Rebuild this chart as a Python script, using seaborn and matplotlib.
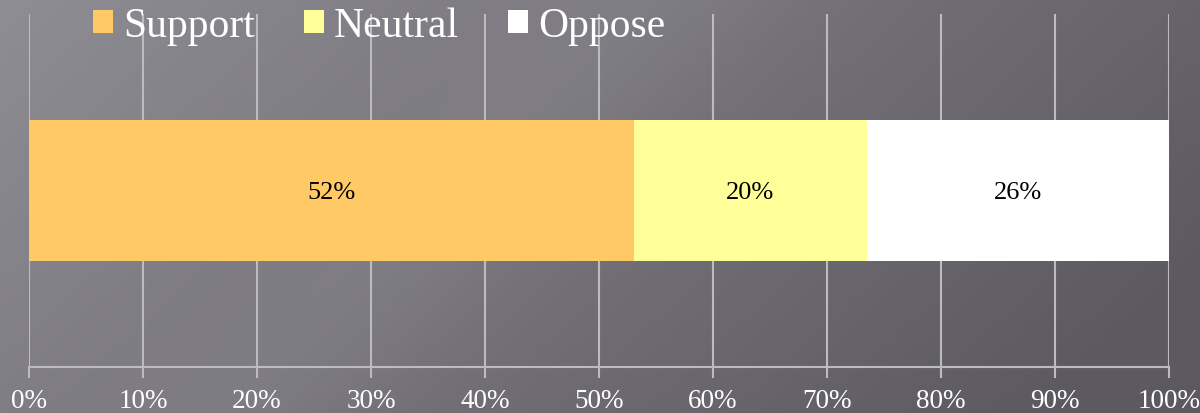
import numpy as np
import pandas as pd
import matplotlib
matplotlib.use("Agg")
import matplotlib.pyplot as plt
import seaborn as sns
from matplotlib.colors import LinearSegmentedColormap
from matplotlib.patches import Patch

# ---- data ----
categories = ["Support", "Neutral", "Oppose"]
values = [52, 20, 26]
colors = ["#FFC966", "#FFFF99", "#FFFFFF"]
tick_labels = ["0%", "10%", "20%", "30%", "40%", "50%", "60%", "70%", "80%", "90%", "100%"]

sns.set_theme(style="white")
plt.rcParams["font.family"] = ["Liberation Serif", "DejaVu Serif"]

fig = plt.figure(figsize=(12, 4.14), dpi=100)

# background gradient
bg = fig.add_axes([0, 0, 1, 1], zorder=-10)
bg.axis("off")
xx, yy = np.meshgrid(np.linspace(0, 1, 300), np.linspace(0, 1, 120))
g = np.clip(0.8 * xx + 0.3 * yy, 0, 1)
streak = np.exp(-((xx * 1.0 + yy * 0.35 - 0.55) ** 2) / 0.01) * 0.12
g = np.clip(g - streak, 0, 1)
cmap = LinearSegmentedColormap.from_list("bg", ["#8f8d94", "#76747a", "#5c5a60"])
bg.imshow(g, cmap=cmap, aspect="auto", extent=[0, 1, 0, 1], origin="upper")

ax = fig.add_axes([29 / 1200, 1 - 368 / 414, 1140 / 1200, (368 - 15) / 414])
ax.patch.set_alpha(0)

total = sum(values)
shares = [v / total * 100 for v in values]
cum = np.cumsum(shares)

# draw cumulative bars from largest to smallest
for i in range(len(categories) - 1, -1, -1):
    sns.barplot(x=[cum[i]], y=["row"], orient="h", color=colors[i], width=0.4,
                saturation=1, ax=ax, zorder=3, linewidth=0)

ax.set_xlim(0, 100)
ax.set_ylim(0.5, -0.5)
ax.set_xticks(np.arange(0, 101, 10))
ax.set_xticklabels(tick_labels, fontsize=19.5, color="white")
ax.set_yticks([])
ax.set_ylabel("")
ax.set_xlabel("")
ax.grid(axis="x", color="#bcbcbc", linewidth=1.5, zorder=1)
ax.set_axisbelow(True)
for s in ["top", "right", "left"]:
    ax.spines[s].set_visible(False)
ax.spines["bottom"].set_color("#bcbcbc")
ax.spines["bottom"].set_linewidth(1.5)
ax.tick_params(axis="x", length=8, width=1.5, color="#bcbcbc", pad=7, bottom=True)

starts = np.concatenate([[0], cum[:-1]])
for s, w, v in zip(starts, shares, values):
    ax.text(s + w / 2, 0.005, f"{v}%", ha="center", va="center", fontsize=19, color="black", zorder=5)

handles = [Patch(facecolor=c, edgecolor="none") for c in colors]
fig.legend(handles, categories, loc="upper left", bbox_to_anchor=(93 / 1200, 0.982), ncol=3,
           frameon=False, fontsize=30, labelcolor="white", handlelength=0.48, handleheight=0.48,
           handletextpad=0.24, columnspacing=1.18, borderpad=0, borderaxespad=0)

fig.savefig("out.png", dpi=100)
